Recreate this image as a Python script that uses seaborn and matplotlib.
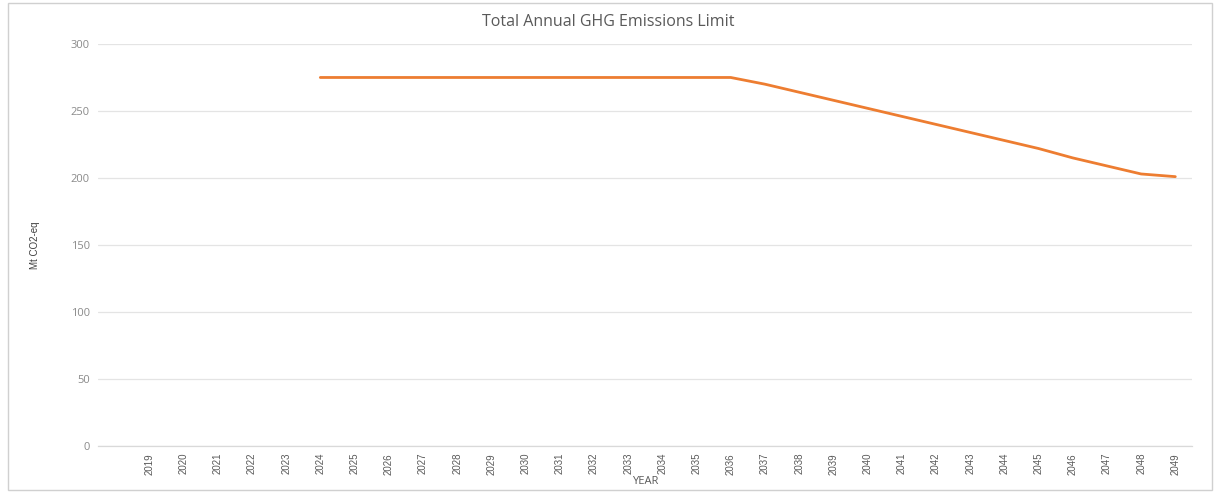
import numpy as np
import pandas as pd
import matplotlib
matplotlib.use("Agg")
import matplotlib.pyplot as plt
from matplotlib.patches import Rectangle
import seaborn as sns

# Emission limit by year (Mt CO2-eq); no limit set before 2024
years = list(range(2019, 2050))
limit = [np.nan, np.nan, np.nan, np.nan, np.nan,
         275, 275, 275, 275, 275, 275, 275, 275, 275, 275, 275, 275, 275,
         270, 264, 258, 252, 246, 240, 234, 228, 222, 215, 209, 203, 201]
y_ticks = [0, 50, 100, 150, 200, 250, 300]

df = pd.DataFrame({"year": years, "limit": limit}).dropna()

sns.set_theme(style="white")
plt.rcParams["font.family"] = ["Open Sans", "DejaVu Sans"]

narrow = ["Liberation Sans Narrow", "Liberation Sans", "DejaVu Sans"]

fig = plt.figure(figsize=(12.16, 4.93), dpi=100)
ax = fig.add_axes([0.0806, 0.0953, 0.9, 0.8155])

sns.lineplot(data=df, x="year", y="limit", ax=ax, color="#ED7D31", linewidth=2.0)

ax.set_xlim(2017.5, 2049.5)
ax.set_ylim(0, 300)
ax.set_yticks(y_ticks)
ax.set_yticklabels([str(v) for v in y_ticks], color="#8a8a8a", fontsize=8)
ax.set_xticks(years)
ax.set_xticklabels([str(y) for y in years], rotation=90, fontsize=7,
                   color="#595959", family=narrow)
ax.tick_params(axis="y", length=0, pad=6)
ax.tick_params(axis="x", length=0, pad=5)

ax.grid(axis="y", color="#e4e4e4", linewidth=0.9)
ax.set_axisbelow(True)
for s in ["top", "right", "left"]:
    ax.spines[s].set_visible(False)
ax.spines["bottom"].set_color("#d9d9d9")
ax.spines["bottom"].set_linewidth(0.9)

ax.set_xlabel("YEAR", fontsize=8, color="#595959", labelpad=1)
ax.set_ylabel("Mt CO2-eq", fontsize=7, color="#404040", labelpad=22, family=narrow)

fig.text(0.5, 0.955, "Total Annual GHG Emissions Limit", ha="center", va="center",
         fontsize=11.5, color="#595959")

# light frame around the chart area
fig.patches.append(Rectangle((8 / 1216, 3 / 493), 1204 / 1216, 487 / 493,
                             transform=fig.transFigure, fill=False,
                             edgecolor="#d0d0d0", linewidth=1.0))

fig.savefig("out.png", dpi=100)
